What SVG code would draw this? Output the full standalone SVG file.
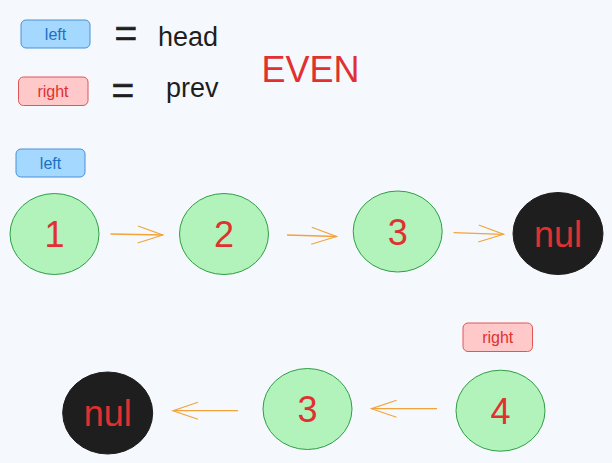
<svg xmlns="http://www.w3.org/2000/svg" width="612" height="463" viewBox="0 0 612 463">
<defs>
<style>
.bg{fill:#f5f9fd}
.txt{font-family:"Liberation Sans",Arial,sans-serif}
.tag-l rect{fill:#a5d8ff;stroke:#4a8fd6;stroke-width:1}
.tag-l text{fill:#1971c2;font-size:16px;text-anchor:middle}
.tag-r rect{fill:#ffc9c9;stroke:#e05555;stroke-width:1}
.tag-r text{fill:#e03131;font-size:16px;text-anchor:middle}
.node ellipse{fill:#b2f2bb;stroke:#2f9e44;stroke-width:1}
.nil ellipse{fill:#1e1e1e;stroke:#1e1e1e;stroke-width:1}
.node text,.nil text{fill:#e03131;font-size:36px;text-anchor:middle}
.eq{fill:#1e1e1e;font-size:39px;text-anchor:middle;stroke:#1e1e1e;stroke-width:0.6}
.word{fill:#1e1e1e;font-size:27px}
.edge{stroke:#f2a33a;stroke-width:1.3;fill:none;marker-end:url(#ah)}
</style>
<marker id="ah" viewBox="-27 -10 29 20" refX="0" refY="0" markerWidth="29" markerHeight="20" markerUnits="userSpaceOnUse" orient="auto">
<path d="M-25,-8.5 L0,0 L-25,8.5" fill="none" stroke="#f2a33a" stroke-width="1.2"/>
</marker>
</defs>
<rect class="bg" x="0" y="0" width="612" height="463"/>
<g class="txt">
<g id="legend-left" class="tag-l"><rect x="21" y="20" width="69" height="28" rx="5"/><text x="55.5" y="39.5">left</text></g>
<text id="eq1" class="eq" x="126" y="47">=</text>
<text id="head" class="word" x="158" y="46">head</text>
<g id="legend-right" class="tag-r"><rect x="18.5" y="77" width="69.5" height="28.5" rx="5"/><text x="53" y="96.5">right</text></g>
<text id="eq2" class="eq" x="123" y="103.5">=</text>
<text id="prev" class="word" x="166" y="97">prev</text>
<text id="even" x="310.5" y="82" font-size="36" fill="#e03131" text-anchor="middle">EVEN</text>

<g id="tag-left" class="tag-l"><rect x="16" y="149" width="69" height="28" rx="5"/><text x="50.5" y="168.5">left</text></g>
<g id="tag-right" class="tag-r"><rect x="463" y="323" width="69.5" height="28.5" rx="5"/><text x="497.7" y="342.5">right</text></g>

<g id="n1" class="node"><ellipse cx="54.5" cy="234" rx="44.5" ry="40.5"/><text x="54.5" y="247">1</text></g>
<g id="n2" class="node"><ellipse cx="224" cy="234" rx="44.5" ry="40.5"/><text x="224" y="247">2</text></g>
<g id="n3" class="node"><ellipse cx="397.7" cy="231.5" rx="44.5" ry="40.5"/><text x="397.7" y="244.5">3</text></g>
<g id="nul1" class="nil"><ellipse cx="558" cy="233.5" rx="45" ry="41"/><text x="558" y="246.5">nul</text></g>

<g id="nul2" class="nil"><ellipse cx="107.7" cy="413" rx="45" ry="41"/><text x="107.7" y="426">nul</text></g>
<g id="m3" class="node"><ellipse cx="307.5" cy="409" rx="44.5" ry="40.5"/><text x="307.5" y="422">3</text></g>
<g id="m4" class="node"><ellipse cx="500.5" cy="410.7" rx="44.5" ry="40.5"/><text x="500.5" y="423.7">4</text></g>
</g>
<g id="connectors">
<path class="edge" d="M110.5,234 L162.8,235"/>
<path class="edge" d="M287,235 L336.5,236.5"/>
<path class="edge" d="M453.6,232.7 L503.5,234.3"/>
<path class="edge" d="M238,410.7 L173,410.7"/>
<path class="edge" d="M437,408.7 L371.5,408.7"/>
</g>
</svg>
